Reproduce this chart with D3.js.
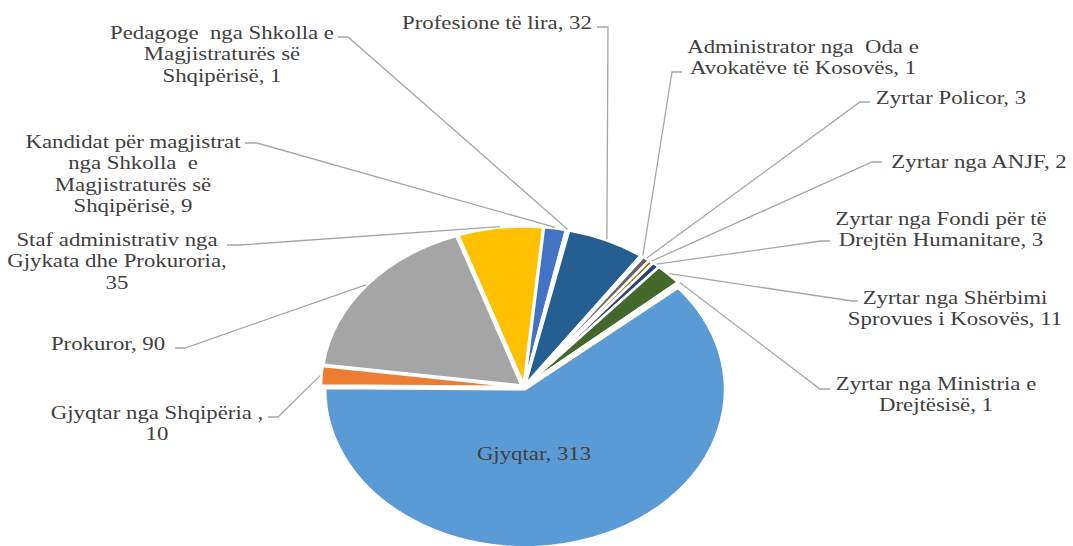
<!DOCTYPE html>
<html><head><meta charset="utf-8">
<script src="https://cdn.jsdelivr.net/npm/d3@7"></script>
<style>body{margin:0;background:#fff}svg{display:block}</style>
</head><body>
<svg id="chart" width="1073" height="546"></svg>
<script>
// ---- data ----
const categories = [
  "Gjyqtar",
  "Gjyqtar nga Shqipëria ",
  "Prokuror",
  "Staf administrativ nga\nGjykata dhe Prokuroria",
  "Kandidat për magjistrat\nnga Shkolla  e\nMagjistraturës së\nShqipërisë",
  "Pedagoge  nga Shkolla e\nMagjistraturës së\nShqipërisë",
  "Profesione të lira",
  "Administrator nga  Oda e\nAvokatëve të Kosovës",
  "Zyrtar Policor",
  "Zyrtar nga ANJF",
  "Zyrtar nga Fondi për të\nDrejtën Humanitare",
  "Zyrtar nga Shërbimi\nSprovues i Kosovës",
  "Zyrtar nga Ministria e\nDrejtësisë"
];
const values = [313, 10, 90, 35, 9, 1, 32, 1, 3, 2, 3, 11, 1];
const valueSeparators = [", ", ",\n", ", ", ",\n", ", ", ", ", ", ", ", ", ", ", ", ", ", ", ", ", ", "];
const colors = ["#5B9BD5","#ED7D31","#A5A5A5","#FFC000","#4472C4","#70AD47","#255E91",
                "#9E480E","#636363","#997300","#264478","#43682B","#7CAFDD"];

// ---- layout ----
const W = 1073, H = 546;
const cx = 524, cy = 387, R = 158, sx = 1.265, explode = 2.5;
const firstSliceAngle = 50; // degrees
const fontSize = 19, lineH = 21.5, textSX = 1.2;
// label center x, first line visual center y, leader tick [start, elbow]
const labelLayout = [
  {x: 534, y: 453, tick: null},
  {x: 157, y: 412, tick: [[268,417],[278,417]]},
  {x: 108, y: 343, tick: [[175,348],[185,348]]},
  {x: 117, y: 239, tick: [[227,245],[240,245]]},
  {x: 133, y: 141, tick: [[245,143],[257,143]]},
  {x: 222, y: 32,  tick: [[338,37],[348,37]]},
  {x: 497, y: 22,  tick: [[597,27],[608,27]]},
  {x: 803, y: 46,  tick: [[682,72],[672,72]]},
  {x: 951, y: 97,  tick: [[870,102],[860,102]]},
  {x: 979, y: 161, tick: [[882,162],[872,162]]},
  {x: 941, y: 218, tick: [[830,241],[821,241]]},
  {x: 955, y: 297, tick: [[858,301],[852,301]]},
  {x: 936, y: 383, tick: [[830,389],[820,389]]}
];

const svg = d3.select("#chart");
const rows = categories.map((c, i) => ({name: c, value: values[i], color: colors[i], i}));
const a0 = firstSliceAngle * Math.PI / 180;
const pie = d3.pie().sort(null).value(d => d.value).startAngle(a0).endAngle(a0 + 2 * Math.PI);
const arcs = pie(rows);
const arc = d3.arc().innerRadius(0).outerRadius(R);

const pieG = svg.append("g").attr("transform", `translate(${cx},${cy}) scale(${sx},1)`);
pieG.selectAll("path").data(arcs).join("path")
  .attr("d", arc)
  .attr("transform", d => {
    const m = (d.startAngle + d.endAngle) / 2;
    return `translate(${Math.sin(m) * explode},${-Math.cos(m) * explode})`;
  })
  .attr("fill", d => d.data.color)
  .attr("stroke", "#fff")
  .attr("stroke-width", 2.5)
  .attr("vector-effect", "non-scaling-stroke");

// leader lines
const anchor = d => {
  const m = (d.startAngle + d.endAngle) / 2;
  const r = R + explode + 1;
  return [cx + sx * Math.sin(m) * r, cy - Math.cos(m) * r];
};
const line = d3.line();
svg.append("g").selectAll("path")
  .data(arcs.filter(d => labelLayout[d.data.i].tick))
  .join("path")
  .attr("d", d => line([...labelLayout[d.data.i].tick, anchor(d)]))
  .attr("fill", "none")
  .attr("stroke", "#A6A6A6")
  .attr("stroke-width", 1.3);

// labels
const labels = svg.append("g")
  .attr("font-family", "'Liberation Serif','Times New Roman',serif")
  .attr("font-size", fontSize)
  .attr("fill", "#404040")
  .attr("text-anchor", "middle");
arcs.forEach(d => {
  const L = labelLayout[d.data.i];
  const lines = (d.data.name + valueSeparators[d.data.i] + d.data.value).split("\n");
  const t = labels.append("text")
    .attr("transform", `translate(${L.x},${L.y}) scale(${textSX},1)`);
  lines.forEach((s, k) => {
    t.append("tspan").attr("x", 0).attr("y", k * lineH).attr("dy", "0.35em")
      .style("white-space", "pre").text(s);
  });
});
</script>
</body></html>
